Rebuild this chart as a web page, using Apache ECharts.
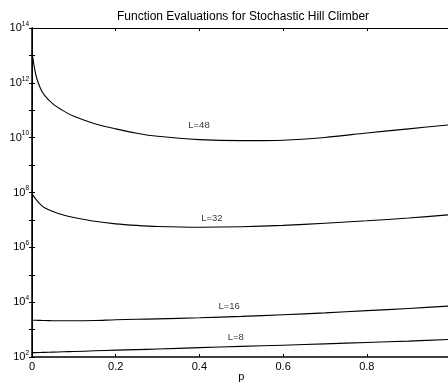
<!DOCTYPE html>
<html>
<head>
<meta charset="utf-8">
<script src="https://cdn.jsdelivr.net/npm/echarts@6/dist/echarts.min.js"></script>
<style>html,body{margin:0;padding:0;background:#fff}#c{width:448px;height:384px}</style>
</head>
<body>
<div id="c"></div>
<script>
var pValues = [0, 0.005, 0.01, 0.02, 0.03, 0.05, 0.075, 0.1, 0.15, 0.2, 0.25, 0.3, 0.4, 0.5, 0.6, 0.7, 0.8, 0.9, 1.0];
var evalsL48 = [1.26e13, 4.2e12, 1.74e12, 6.3e11, 3.5e11, 1.7e11, 9.5e10, 6.0e10, 3.24e10, 2.09e10, 1.45e10, 1.12e10, 8.5e9, 7.8e9, 8.1e9, 1.02e10, 1.48e10, 2.1e10, 2.95e10];
var evalsL32 = [8.9e7, 6.9e7, 5.5e7, 3.7e7, 2.8e7, 2.04e7, 1.51e7, 1.23e7, 8.9e6, 7.2e6, 6.3e6, 5.75e6, 5.4e6, 5.6e6, 6.3e6, 7.6e6, 9.3e6, 1.17e7, 1.55e7];
var evalsL16 = [2190, 2190, 2180, 2160, 2140, 2110, 2090, 2090, 2140, 2290, 2370, 2450, 2690, 3020, 3470, 4070, 4900, 5890, 7240];
var evalsL8 = [145, 145, 145, 146, 148, 151, 155, 158, 168, 178, 186, 195, 219, 245, 269, 302, 339, 380, 437];
var seriesNames = ['L=48', 'L=32', 'L=16', 'L=8'];
var seriesValues = [evalsL48, evalsL32, evalsL16, evalsL8];
// curve label anchor points in data units [p, evaluations]
var curveLabelAt = [[0.399, 2.9e10], [0.43, 1.17e7], [0.471, 7.1e3], [0.487, 525]];
var yMinExp = 2, yMaxExp = 14;

var chart = echarts.init(document.getElementById('c'), null, {renderer: 'canvas'});
var font = 'Liberation Sans, Arial, Helvetica, sans-serif';

function pairs(arr) { return pValues.map(function (p, i) { return [p, arr[i]]; }); }

var series = seriesValues.map(function (vals, k) {
  return {
    name: seriesNames[k],
    type: 'line',
    data: pairs(vals),
    showSymbol: false,
    smooth: 0.3,
    lineStyle: {color: '#000', width: 1.1},
    silent: true
  };
});

series.push({
  name: 'curve labels',
  type: 'scatter',
  data: curveLabelAt.map(function (c, k) { return {value: c, name: seriesNames[k]}; }),
  symbol: 'rect',
  symbolSize: 1,
  itemStyle: {color: 'rgba(0,0,0,0)'},
  silent: true,
  label: {show: true, position: 'inside', formatter: function (d) { return d.name; },
    color: '#000', fontSize: 9.5, fontFamily: font}
});

var axisLineStyle = {color: '#000', width: 1};

chart.setOption({
  animation: false,
  backgroundColor: '#fff',
  title: {
    text: 'Function Evaluations for Stochastic Hill Climber',
    left: 238, top: 6, textAlign: 'center',
    textStyle: {fontSize: 12, fontWeight: 'normal', color: '#000', fontFamily: font}
  },
  grid: {left: 32, top: 28, width: 418.5, height: 329, containLabel: false, outerBoundsMode: 'none'},
  xAxis: [{
    type: 'value', min: 0, max: 1, interval: 0.2,
    name: 'p', nameLocation: 'middle', nameGap: 14, nameMoveOverlap: false,
    nameTextStyle: {fontSize: 11, color: '#000', fontFamily: font},
    axisLine: {show: true, lineStyle: {color: '#000', width: 1.5}},
    axisTick: {show: true, inside: true, length: 3, lineStyle: axisLineStyle},
    axisLabel: {fontSize: 11, color: '#000', fontFamily: font, margin: 4,
      formatter: function (v) { return String(Math.round(v * 10) / 10); }},
    splitLine: {show: false}
  }, {
    type: 'value', min: 0, max: 1, interval: 0.2, position: 'top',
    axisLine: {show: true, lineStyle: axisLineStyle},
    axisTick: {show: true, inside: true, length: 3, lineStyle: axisLineStyle},
    axisLabel: {show: false}, splitLine: {show: false}
  }],
  yAxis: [{
    type: 'log', logBase: 10, min: Math.pow(10, yMinExp), max: Math.pow(10, yMaxExp), interval: 1,
    axisLine: {show: true, lineStyle: {color: '#000', width: 1.5}},
    axisTick: {show: true, inside: true, length: 3, lineStyle: axisLineStyle},
    axisLabel: {
      color: '#000', fontFamily: font, margin: 3,
      formatter: function (v) {
        var e = Math.round(Math.log10(v));
        if (e % 2 !== 0) return '';
        return '{b|10}{s|' + e + '}';
      },
      rich: {
        b: {fontSize: 11, fontFamily: font, color: '#000'},
        s: {fontSize: 6.5, fontFamily: font, color: '#000', padding: [0, 0, 8, 0]}
      }
    },
    splitLine: {show: false}
  }, {
    type: 'log', logBase: 10, min: Math.pow(10, yMinExp), max: Math.pow(10, yMaxExp), interval: 1, position: 'right',
    axisLine: {show: true, lineStyle: axisLineStyle},
    axisTick: {show: true, inside: true, length: 3, lineStyle: axisLineStyle},
    axisLabel: {show: false}, splitLine: {show: false}
  }],
  series: series
});
</script>
</body>
</html>
